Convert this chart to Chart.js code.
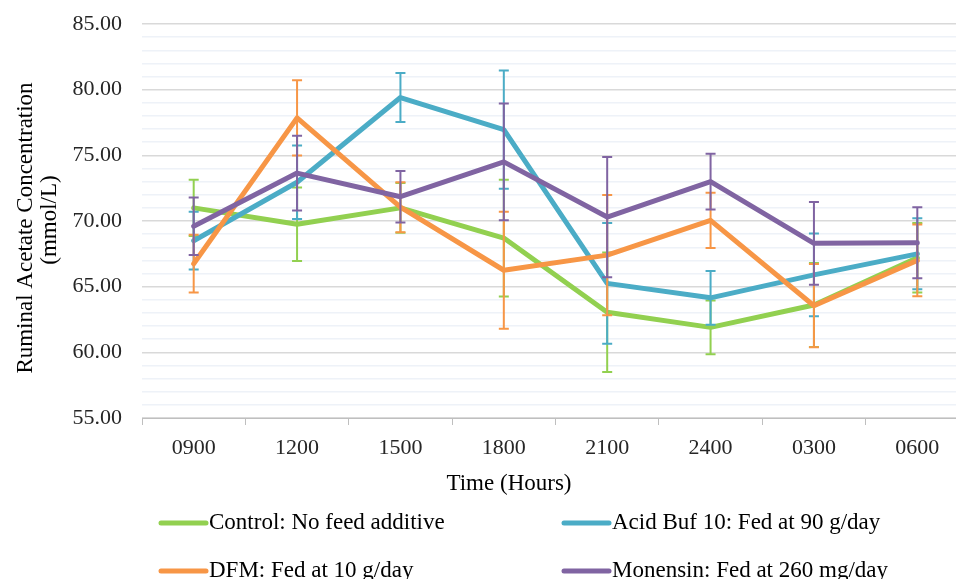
<!DOCTYPE html>
<html><head><meta charset="utf-8">
<script src="https://cdn.jsdelivr.net/npm/chart.js@4/dist/chart.umd.min.js"></script>
<style>
html,body{margin:0;padding:0;background:#fff;overflow:hidden;width:956px;height:579px}
#wrap{position:absolute;left:0;top:0;width:970px;height:579px}
</style></head>
<body><div id="wrap"><canvas id="c" width="970" height="579"></canvas></div>
<script>
const categories = ['0900','1200','1500','1800','2100','2400','0300','0600'];
const seriesNames = ['Control: No feed additive','Acid Buf 10: Fed at 90 g/day','DFM: Fed at 10 g/day','Monensin: Fed at 260 mg/day'];
const control     = [71.0, 69.75, 71.0, 68.7, 63.05, 61.9, 63.6, 67.2];
const controlErr  = [2.15, 2.8, 1.9, 4.45, 4.55, 2.05, 3.2, 2.65];
const acidBuf     = [68.5, 72.95, 79.4, 76.95, 65.25, 64.15, 65.9, 67.5];
const acidBufErr  = [2.2, 2.8, 1.87, 4.5, 4.6, 2.05, 3.15, 2.7];
const dfm         = [66.75, 77.85, 71.05, 66.25, 67.4, 70.05, 63.55, 67.0];
const dfmErr      = [2.2, 2.87, 1.9, 4.45, 4.58, 2.1, 3.17, 2.73];
const monensin    = [69.6, 73.65, 71.85, 74.5, 70.3, 73.0, 68.3, 68.35];
const monensinErr = [2.18, 2.85, 1.96, 4.45, 4.58, 2.13, 3.15, 2.7];
const yMin = 55, yMax = 85, yMajor = 5;
const xTitle = 'Time (Hours)';
const yTitle = ['Ruminal Acetate Concentration', '(mmol/L)'];

const colors = ['#92D050','#4BACC6','#F79646','#8064A2'];
const FONT = '"Liberation Serif","Times New Roman",serif';

const errorBars = {
  id: 'errorBars',
  afterDatasetDraw(chart, args) {
    const ds = chart.data.datasets[args.index];
    const errs = ds.errors;
    if (!errs) return;
    const y = chart.scales.y, ctx = chart.ctx;
    ctx.save();
    ctx.strokeStyle = ds.borderColor;
    ctx.lineWidth = 2;
    ctx.lineCap = 'butt';
    args.meta.data.forEach((pt, i) => {
      const v = ds.data[i], e = errs[i], x = pt.x;
      const yt = y.getPixelForValue(v + e), yb = y.getPixelForValue(v - e);
      ctx.beginPath();
      ctx.moveTo(x, yt); ctx.lineTo(x, yb);
      ctx.moveTo(x - 5, yt); ctx.lineTo(x + 5, yt);
      ctx.moveTo(x - 5, yb); ctx.lineTo(x + 5, yb);
      ctx.stroke();
    });
    ctx.restore();
  }
};

const titlesLegend = {
  id: 'titlesLegend',
  afterDraw(chart) {
    const ctx = chart.ctx, ca = chart.chartArea;
    ctx.save();
    ctx.fillStyle = '#000';
    ctx.font = '23px ' + FONT;
    ctx.textAlign = 'center';
    ctx.textBaseline = 'middle';
    ctx.fillText(xTitle, ca.left + 367, ca.bottom + 66);
    ctx.textBaseline = 'alphabetic';
    const ycenters = [ca.top + 204, ca.top + 196];
    const ybase = [32, 56];
    yTitle.forEach((t, i) => {
      ctx.save();
      ctx.translate(ybase[i], ycenters[i]);
      ctx.rotate(-Math.PI / 2);
      ctx.fillText(t, 0, 0);
      ctx.restore();
    });
    // legend: 2 columns x 2 rows
    const colX = [ca.left + 17, ca.left + 420];
    const rowY = [ca.bottom + 105, ca.bottom + 153];
    ctx.textAlign = 'left';
    ctx.textBaseline = 'middle';
    chart.data.datasets.forEach((ds, i) => {
      const x = colX[i % 2], yy = rowY[Math.floor(i / 2)];
      ctx.strokeStyle = ds.borderColor;
      ctx.lineWidth = 5;
      ctx.lineCap = 'round';
      ctx.beginPath();
      ctx.moveTo(x + 2, yy); ctx.lineTo(x + 47, yy);
      ctx.stroke();
      ctx.fillStyle = '#000';
      ctx.fillText(ds.label, x + 50, yy);
    });
    ctx.restore();
  }
};

const seriesData = [control, acidBuf, dfm, monensin];
const seriesErr = [controlErr, acidBufErr, dfmErr, monensinErr];

new Chart(document.getElementById('c'), {
  type: 'line',
  data: {
    labels: categories,
    datasets: seriesData.map((d, i) => ({
      label: seriesNames[i],
      data: d,
      errors: seriesErr[i],
      borderColor: colors[i],
      backgroundColor: colors[i],
      borderWidth: 5,
      borderJoinStyle: 'round',
      borderCapStyle: 'round',
      pointRadius: 0,
      tension: 0,
      fill: false,
      order: 4 - i
    }))
  },
  options: {
    responsive: false,
    animation: false,
    layout: { padding: { top: 24, left: 0, right: 1, bottom: 0 } },
    plugins: { legend: { display: false }, tooltip: { enabled: false } },
    scales: {
      x: {
        offset: true,
        grid: { offset: true, drawOnChartArea: false, drawTicks: true, tickLength: 7, color: '#BFBFBF', lineWidth: 1 },
        border: { display: true, color: '#BFBFBF', width: 1 },
        ticks: { font: { family: FONT, size: 22 }, color: '#262626', padding: 10, maxRotation: 0, autoSkip: false },
        afterFit(s) { s.height = 161; }
      },
      y: {
        min: yMin, max: yMax,
        grid: {
          drawTicks: false,
          color: c => (c.tick && c.tick.value % yMajor === 0) ? '#D9D9D9' : '#EEF2F8',
          lineWidth: 1.5
        },
        border: { display: false },
        ticks: {
          stepSize: 1, autoSkip: false,
          font: { family: FONT, size: 22 }, color: '#262626', padding: 20,
          callback: v => (v % yMajor === 0) ? v.toFixed(2) : ''
        },
        afterFit(s) { s.width = 142; s.paddingTop = 12; s.paddingBottom = 12; }
      }
    }
  },
  plugins: [errorBars, titlesLegend]
});
</script>
</body></html>
